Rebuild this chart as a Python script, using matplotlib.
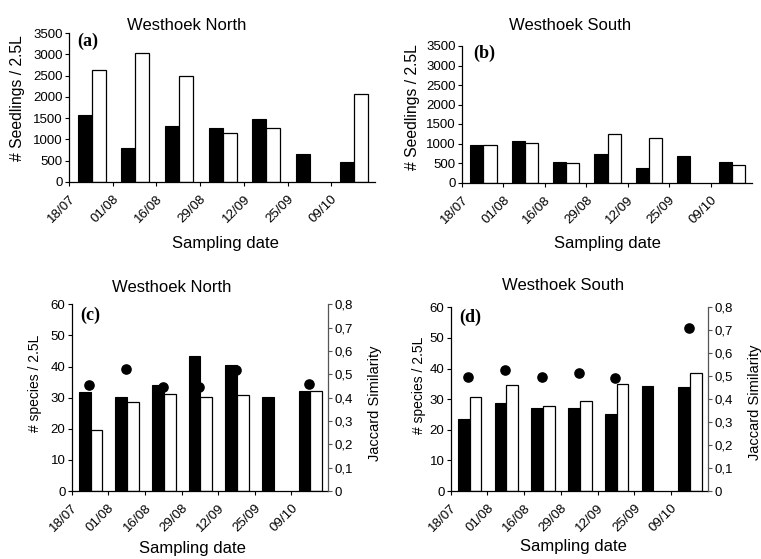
import numpy as np
import matplotlib
matplotlib.use("Agg")
import matplotlib.pyplot as plt

plt.rcParams['font.family'] = ['Liberation Sans', 'DejaVu Sans']

dates = ['18/07', '01/08', '16/08', '29/08', '12/09', '25/09', '09/10']

# (a) Westhoek North - seedlings
a_black = [1565, 800, 1310, 1270, 1490, 660, 480]
a_white = [2640, 3040, 2490, 1150, 1270, np.nan, 2060]
# (b) Westhoek South - seedlings
b_black = [950, 1060, 530, 735, 375, 690, 530]
b_white = [950, 1010, 490, 1255, 1145, np.nan, 445]
# (c) Westhoek North - species + Jaccard
c_black = [31.8, 30.3, 34.2, 43.3, 40.4, 30.3, 32.2]
c_white = [19.6, 28.7, 31.2, 30.3, 30.7, np.nan, 32.2]
c_jac = [0.456, 0.522, 0.445, 0.445, 0.52, np.nan, 0.46]
# (d) Westhoek South - species + Jaccard
d_black = [23.6, 28.9, 27.0, 27.0, 25.1, 34.4, 34.0]
d_white = [30.7, 34.7, 27.9, 29.4, 34.9, np.nan, 38.4]
d_jac = [0.497, 0.529, 0.497, 0.512, 0.493, np.nan, 0.71]

W, H = 761, 559
fig = plt.figure(figsize=(W / 100, H / 100), dpi=100)


def box(l, t, r, b):
    return [l / W, 1 - b / H, (r - l) / W, (b - t) / H]


def txt(x, y, s, **kw):
    fig.text(x / W, 1 - y / H, s, ha='center', va='center', **kw)


x = np.arange(len(dates))
bw = 0.32


def bars(ax, black, white, ymax, step):
    ax.bar(x + 0.355, black, bw, color='black', edgecolor='black', linewidth=0.8)
    ax.bar(x + 0.675, white, bw, color='white', edgecolor='black', linewidth=0.9)
    ax.set_xlim(0, 7)
    ax.set_ylim(0, ymax)
    ax.set_yticks(np.arange(0, ymax + step / 2, step))
    ax.set_xticks(x)
    ax.set_xticklabels(dates, rotation=45, ha='right', va='top',
                       rotation_mode='anchor', fontsize=9.6)
    ax.tick_params(axis='y', labelsize=9.5, length=3, width=0.8, pad=1.5)
    ax.tick_params(axis='x', length=3, width=0.8, pad=5)
    for s in ['top', 'right']:
        ax.spines[s].set_visible(False)
    for s in ['left', 'bottom']:
        ax.spines[s].set_linewidth(0.9)


def jaccard(ax, jac):
    ax2 = ax.twinx()
    ax2.scatter(x + 0.48, jac, s=44, color='black', zorder=5, clip_on=False)
    ax2.set_ylim(0, 0.8)
    ticks = np.arange(0, 0.81, 0.1)
    ax2.set_yticks(ticks)
    ax2.set_yticklabels(['0'] + [('%.1f' % t).replace('.', ',') for t in ticks[1:]])
    ax2.tick_params(axis='y', labelsize=9.5, length=3, width=0.8, pad=1.5,
                    color='#555555')
    for s in ['top', 'left', 'bottom']:
        ax2.spines[s].set_visible(False)
    ax2.spines['right'].set_color('#555555')
    ax2.spines['right'].set_linewidth(0.9)
    return ax2


ax_a = fig.add_axes(box(69, 33, 375, 182))
bars(ax_a, a_black, a_white, 3500, 500)
ax_b = fig.add_axes(box(462, 46, 752, 182.5))
bars(ax_b, b_black, b_white, 3500, 500)
ax_c = fig.add_axes(box(71.7, 304.3, 328, 491))
bars(ax_c, c_black, c_white, 60, 10)
jaccard(ax_c, c_jac)
ax_d = fig.add_axes(box(450.7, 307.3, 708, 491))
bars(ax_d, d_black, d_white, 60, 10)
jaccard(ax_d, d_jac)

# titles
txt(187, 26, 'Westhoek North', fontsize=12)
txt(570, 26, 'Westhoek South', fontsize=12)
txt(172, 288, 'Westhoek North', fontsize=12)
txt(563, 286, 'Westhoek South', fontsize=12)

# x labels
txt(225, 243, 'Sampling date', fontsize=12)
txt(607, 243, 'Sampling date', fontsize=12)
txt(192, 549, 'Sampling date', fontsize=12)
txt(573, 547, 'Sampling date', fontsize=12)

# y labels
txt(18, 98, '# Seedlings / 2.5L', fontsize=11.3, rotation=90)
txt(412, 107, '# Seedlings / 2.5L', fontsize=11.3, rotation=90)
txt(35, 383, '# species / 2.5L', fontsize=10, rotation=90)
txt(419, 385, '# species / 2.5L', fontsize=10, rotation=90)
txt(375, 403, 'Jaccard Similarity', fontsize=10.5, rotation=90)
txt(755, 402, 'Jaccard Similarity', fontsize=10.5, rotation=90)

# panel letters
for px, py, lab in [(88, 41, '(a)'), (484, 53, '(b)'), (90, 315, '(c)'), (470, 317, '(d)')]:
    txt(px, py, lab, fontsize=13, fontweight='bold', family='Liberation Serif')

fig.savefig('out.png', dpi=100)
